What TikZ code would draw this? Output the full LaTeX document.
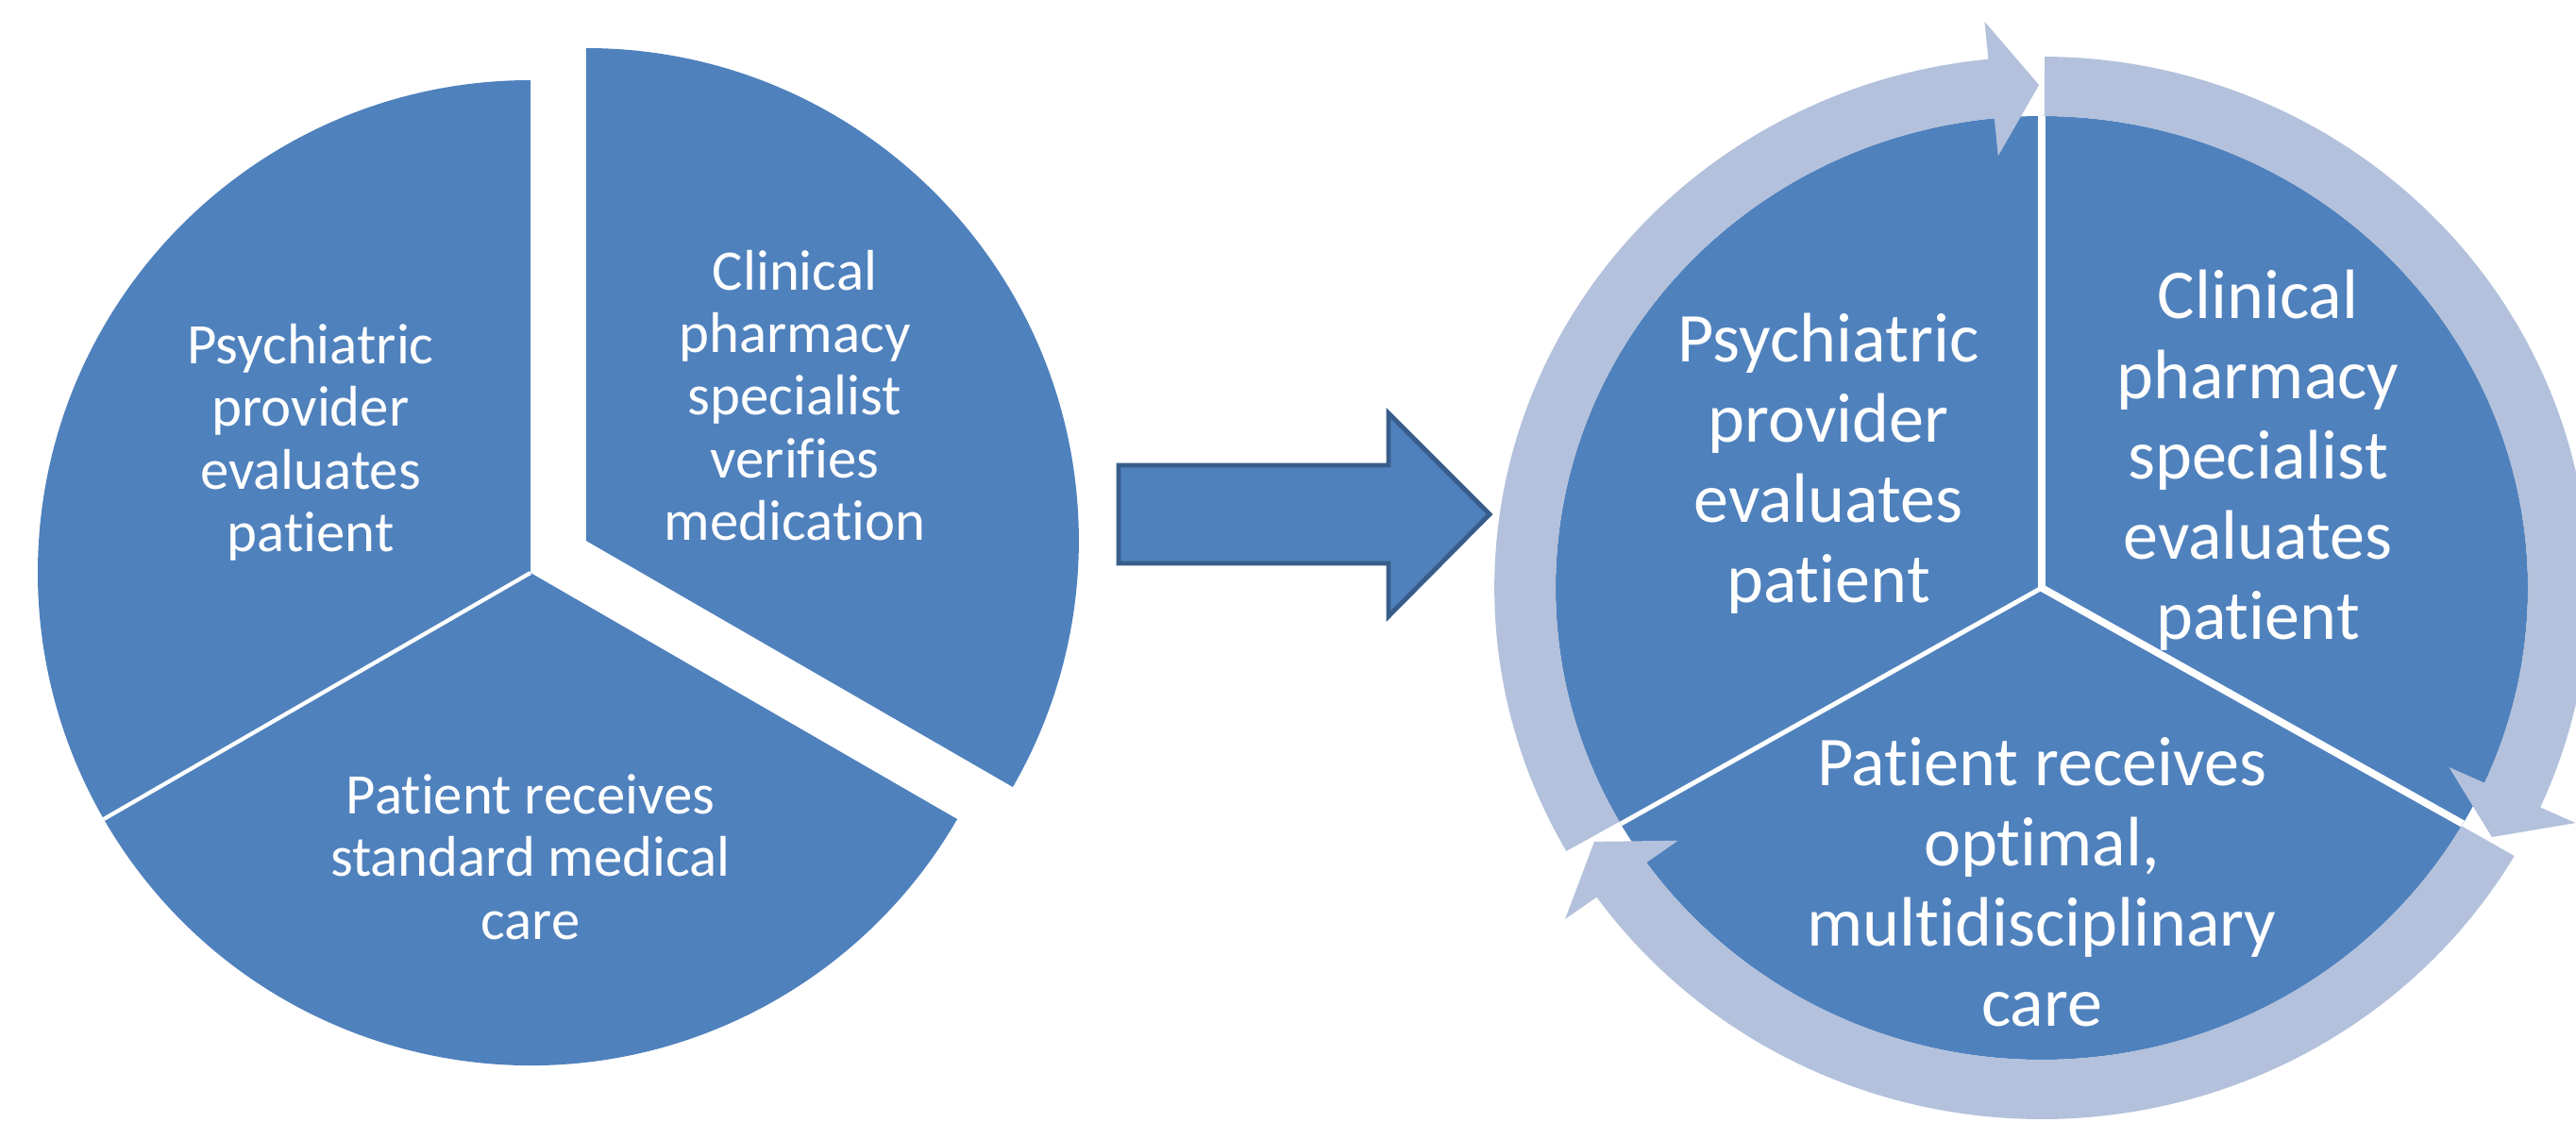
\documentclass[tikz,border=0pt]{standalone}
\usepackage{fontspec}
\setmainfont{Carlito}[Ligatures=NoCommon]
\usetikzlibrary{calc}
\definecolor{pieblue}{HTML}{4F81BD}
\definecolor{ringblue}{HTML}{B3C1DC}
\definecolor{edgeblue}{HTML}{385D8A}

\begin{document}
\begin{tikzpicture}[x=1cm, y=1cm,
    piece/.style={fill=pieblue, draw=none},
    ringarrow/.style={fill=ringblue, draw=none},
    pietext/.style={text=white, align=center, inner sep=0pt},
    txtsmall/.style={font=\fontsize{17.3}{18.9}\selectfont},
    txtbig/.style={font=\fontsize{21.1}{24.2}\selectfont}]
    \clip (0,0) rectangle (27.29,12.06);
    \useasboundingbox (0,0) rectangle (27.29,12.06);

    % 左侧饼图
    \coordinate (L) at (5.62,5.99);
    \coordinate (LE) at ($(L)+(30:0.68)$); % 分离出的扇形
    \fill[piece] (L) -- ++(90:5.22) arc[start angle=90, end angle=210, radius=5.22] -- cycle;
    \fill[piece] (L) -- ++(210:5.22) arc[start angle=210, end angle=330, radius=5.22] -- cycle;
    \fill[piece] (LE) -- ++(90:5.22) arc[start angle=90, end angle=-30, radius=5.22] -- cycle;
    \draw[white, line width=1.2pt] (L) -- ++(210:5.22);

    \node[pietext, txtsmall] (psyL) at (3.29,7.37) {Psychiatric\\provider\\evaluates\\patient};
    \node[pietext, txtsmall] (cpsL) at (8.42,7.87) {Clinical\\pharmacy\\specialist\\verifies\\medication};
    \node[pietext, txtsmall] (ptL) at (5.62,2.98) {Patient receives\\standard medical\\care};

    % 中间箭头
    \coordinate (A1) at (11.85,6.09);
    \coordinate (A2) at (14.71,7.13);
    \coordinate (T) at (15.78,6.61);
    \draw[fill=pieblue, draw=edgeblue, line width=1.4pt]
        (A1) -- (A1 |- A2) -- (A2) -- (14.71,7.68) -- (T) -- (14.71,5.53) -- (A2 |- A1) -- cycle;

    % 右侧循环图
    \coordinate (R) at (21.63,5.83);
    \begin{scope}[shift={(R)}, xscale=1.03]
        \fill[piece] (0,0) circle[radius=5.0];
        \draw[white, line width=2.4pt] (0,0) -- (90:5.0);
        \draw[white, line width=2.2pt] (0,0) -- (-30:5.0);
        \draw[white, line width=1.4pt] (0,0) -- (210:5.0);
        % 环形箭头
        \foreach \a in {210,90,-30}
            \fill[ringarrow] ({\a-0.3}:5.63) arc[start angle=\a-0.3, end angle=\a-114.4, radius=5.63]
                -- ({\a-114.4}:6.03) -- ({\a-119.7}:5.33) -- ({\a-114.4}:4.6)
                -- ({\a-114.4}:5.0) arc[start angle=\a-114.4, end angle=\a-0.3, radius=5.0] -- cycle;
    \end{scope}

    \node[pietext, txtbig] (psyR) at (19.37,7.15) {Psychiatric\\provider\\evaluates\\patient};
    \node[pietext, txtbig] (cpsR) at (23.92,7.18) {Clinical\\pharmacy\\specialist\\evaluates\\patient};
    \node[pietext, txtbig] (ptR) at (21.63,2.71) {Patient receives\\optimal,\\multidisciplinary\\care};
\end{tikzpicture}
\end{document}
